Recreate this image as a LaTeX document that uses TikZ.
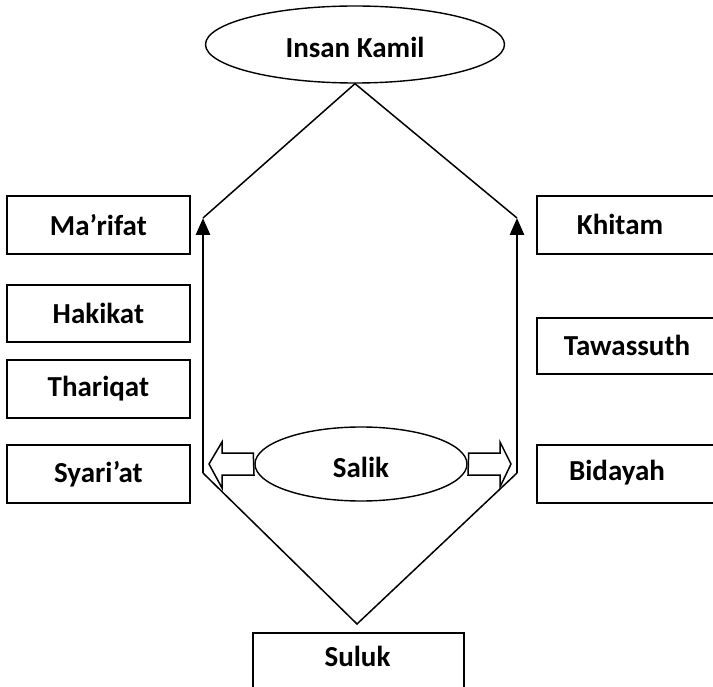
\documentclass[tikz,border=0pt]{standalone}
\usepackage{fontspec}
\setmainfont{Carlito}
\usetikzlibrary{shapes.geometric,arrows.meta}
\begin{document}
\begin{tikzpicture}[x=1pt,y=-1pt,
  lbl/.style={font=\fontsize{29}{34}\selectfont\bfseries, inner sep=0pt},
  boxs/.style={draw, line width=1.8pt, minimum width=183pt, minimum height=58pt, inner sep=0pt, anchor=north west},
  ell/.style={draw, ellipse, line width=1.4pt, inner sep=0pt},
  thin/.style={line width=1.5pt},
  upar/.style={line width=2.8pt, -{Triangle[length=17pt,width=14pt]}},
  hollow/.style={draw, line width=1.5pt, fill=white, line join=miter}]
\useasboundingbox (0,0) rectangle (713,687);

% top ellipse
\node[ell, minimum width=299pt, minimum height=77pt] (ik) at (355,44.5) {};
\node[lbl] (iktxt) at (355,47) {Insan Kamil};

% left boxes
\node[boxs] (marifat) at (6,195) {};
\node[lbl] (marifattxt) at (marifat.center) {Ma’rifat};
\node[boxs, minimum height=57pt] (hakikat) at (6,284) {};
\node[lbl] (hakikattxt) at (hakikat.center) {Hakikat};
\node[boxs] (thariqat) at (6,359) {};
\node[lbl] (thariqattxt) at (thariqat.center) {Thariqat};
\node[boxs] (syariat) at (6,444) {};
\node[lbl] (syariattxt) at (syariat.center) {Syari’at};

% right boxes (cut off at right edge)
\node[boxs, minimum width=190pt] (khitam) at (536,195) {};
\node[lbl] (khitamtxt) at (620,224) {Khitam};
\node[boxs, minimum width=190pt, minimum height=56pt] (tawassuth) at (536,317) {};
\node[lbl] (tawassuthtxt) at (627,345) {Tawassuth};
\node[boxs, minimum width=190pt] (bidayah) at (536,444) {};
\node[lbl] (bidayahtxt) at (617,473) {Bidayah};

% bottom box
\node[boxs, minimum width=211pt, minimum height=60pt] (suluk) at (252,632) {};
\node[lbl] (suluktxt) at (357.5,656) {Suluk};

% Salik ellipse
\node[ell, minimum width=212pt, minimum height=74pt] (salik) at (361,464) {};
\node[lbl] (saliktxt) at (361,467) {Salik};

% key points
\coordinate (lt) at (203,218);
\coordinate (rt) at (517,218);
\coordinate (lb) at (203,473);
\coordinate (rb) at (517,473);
\coordinate (bot) at (357,624);

% V shapes
\draw[thin] (lt) -- (ik.south) -- (rt);
\draw[thin] (lb) -- (bot) -- (rb);

% vertical arrows
\draw[upar] (lb) -- (lt);
\draw[upar] (rb) -- (rt);

% hollow arrows
\draw[hollow] (salik.west) ++(-1,-11) -- (222,453) -- (222,442) -- (209,464) -- (222,488) -- (222,475) -- (254,475) -- cycle;
\draw[hollow] (salik.east) ++(1,-11) -- (500,453) -- (500,442) -- (511,464) -- (500,487) -- (500,475) -- (468,475) -- cycle;
\end{tikzpicture}
\end{document}
